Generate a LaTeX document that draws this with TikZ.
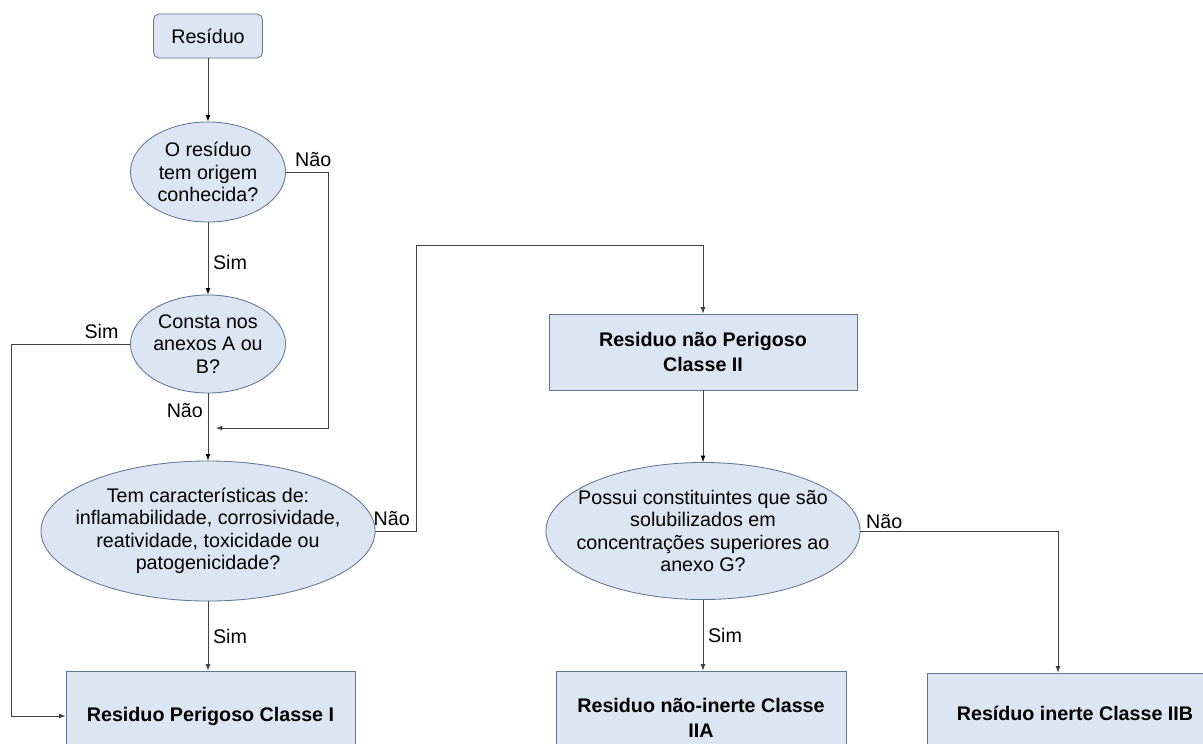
\documentclass[tikz,border=0pt]{standalone}
\usepackage{fontspec}
\setmainfont{Liberation Sans}
\usetikzlibrary{shapes.geometric}

\definecolor{boxfill}{RGB}{220,230,242}
\definecolor{boxline}{RGB}{96,118,146}
\definecolor{wire}{RGB}{64,64,64}

\tikzset{
	txt/.style={font=\fontsize{14}{16}\selectfont},
	quest/.style={ellipse, draw=boxline, fill=boxfill, align=center, inner xsep=-1cm, inner ysep=-3mm, txt},
	classbox/.style={rectangle, draw=boxline, fill=boxfill, align=center, font=\fontsize{14}{18}\selectfont\bfseries},
	startbox/.style={rectangle, rounded corners=4pt, draw=boxline, fill=boxfill, txt},
	flow/.style={->, >=latex, draw=wire},
}

\begin{document}
\begin{tikzpicture}[x=0.025cm, y=-0.025cm, line width=0.6pt, txt]
	\clip (0,0) rectangle (1203,743);
	\fill[white] (0,0) rectangle (1203,743);

	% classification of residues
	\node[startbox, minimum width=2.725cm, minimum height=1.1cm] (res) at (208,36) {Resíduo};
	\node[quest, minimum width=3.875cm, minimum height=2.5cm] (q1) at (208,172) {O resíduo\\tem origem\\conhecida?};
	\node[quest, minimum width=3.875cm, minimum height=2.45cm] (q2) at (208,344) {Consta nos\\anexos A ou\\B?};
	\node[quest, minimum width=8.35cm, minimum height=3.5cm] (q3) at (208,531) {Tem características de:\\inflamabilidade, corrosividade,\\reatividade, toxicidade ou\\patogenicidade?};
	\node[classbox, minimum width=7.225cm, minimum height=2.25cm] (c1) at (210.5,716) {Residuo Perigoso Classe I};

	\node[classbox, minimum width=7.7cm, minimum height=1.9cm] (c2) at (703,352) {Residuo não Perigoso\\Classe II};
	\node[quest, minimum width=7.85cm, minimum height=3.425cm] (q4) at (703,531) {Possui constituintes que são\\solubilizados em\\concentrações superiores ao\\anexo G?};
	\node[classbox, minimum width=7.25cm, minimum height=2.35cm] (c2a) at (701,718) {Residuo não-inerte Classe\\IIA};
	\node[classbox, minimum width=7.4cm, minimum height=2cm] (c2b) at (1075,713) {Resíduo inerte Classe IIB};

	\coordinate (turnA) at (328,428);
	\coordinate (mergeA) at (216,428);
	\coordinate (turnB) at (11,344);
	\coordinate (turnC) at (416,245);
	\coordinate (turnD) at (1058,531);

	\draw[flow] (res) edge (q1);
	\draw[flow] (q1) edge node[right, pos=0.55] {Sim} (q2);
	\draw[flow] (q2) edge node[left, pos=0.25] {Não} (q3);
	\draw[flow] (q3.south) -- node[right] {Sim} (q3.south |- c1.north);
	\draw[flow] (q1.east) -- node[above, pos=0.65] {Não} (q1.east -| turnA) -- (turnA) -- (mergeA);
	\draw[flow] (q2.west) -- node[above, pos=0.24] {Sim} (turnB) |- (c1.west);
	\draw[flow] (q3.east) -- node[above, pos=0.4] {Não} (q3.east -| turnC) -- (turnC) -| (c2.north);

	\draw[flow] (c2) edge (q4);
	\draw[flow] (q4.south) -- node[right] {Sim} (q4.south |- c2a.north);
	\draw[flow] (q4.east) -- node[above, pos=0.12, inner sep=1pt] {Não} (turnD) -- (turnD |- c2b.north);
\end{tikzpicture}
\end{document}
